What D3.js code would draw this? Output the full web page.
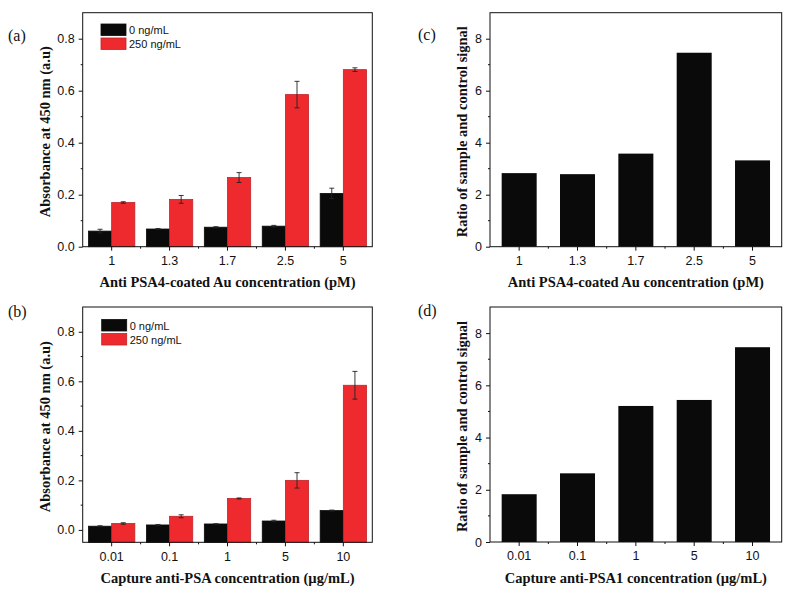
<!DOCTYPE html>
<html>
<head>
<meta charset="utf-8">
<script src="https://cdn.jsdelivr.net/npm/d3@7"></script>
<style>
  html, body { margin: 0; padding: 0; background: #fff; }
  svg { display: block; }
</style>
</head>
<body>
<svg id="chart" width="791" height="595"></svg>
<script>
// ---------- DATA ----------
const catsA = ["1", "1.3", "1.7", "2.5", "5"];
const catsB = ["0.01", "0.1", "1", "5", "10"];
const seriesNames = ["0 ng/mL", "250 ng/mL"];

const aBlack = [0.060, 0.068, 0.075, 0.079, 0.205];
const aBlackErr = [0.007, 0.002, 0.002, 0.003, 0.020];
const aRed = [0.170, 0.182, 0.266, 0.585, 0.681];
const aRedErr = [0.003, 0.015, 0.019, 0.051, 0.007];

const bBlack = [0.015, 0.020, 0.024, 0.036, 0.078];
const bBlackErr = [0.002, 0.002, 0.001, 0.003, 0.002];
const bRed = [0.026, 0.055, 0.127, 0.200, 0.584];
const bRedErr = [0.003, 0.006, 0.002, 0.031, 0.056];

const cRatio = [2.83, 2.79, 3.58, 7.46, 3.32];
const dRatio = [1.83, 2.63, 5.21, 5.44, 7.46];

const yTicksAbs = [0, 0.2, 0.4, 0.6, 0.8];
const yMinorAbs = [0.1, 0.3, 0.5, 0.7];
const yTicksRatio = [0, 2, 4, 6, 8];
const yMinorRatio = [1, 3, 5, 7];

const BLACK = "#0a0a0a";
const RED = "#ef2a2e";
const RED_EDGE = "#c0242a";

const svg = d3.select("#chart");
const serif = "'Liberation Serif', 'Times New Roman', serif";
const sans = "'Liberation Sans', Arial, sans-serif";

function drawFrame(g, x0, x1, y0, y1, x, y, cats, yTicks, yMinor, fmt) {
  const yAxis = d3.axisLeft(y).tickValues(yTicks).tickSize(4).tickSizeOuter(0).tickFormat(fmt);
  const ya = g.append("g").attr("transform", `translate(${x0},0)`).call(yAxis);
  ya.select(".domain").remove();
  ya.selectAll("text").attr("font-family", sans).attr("font-size", 12.5).attr("fill", "#111").attr("dx", "-1");
  ya.selectAll("line").attr("stroke", "#111");
  g.selectAll(null).data(yMinor).join("line")
    .attr("x1", x0 - 2).attr("x2", x0)
    .attr("y1", d => y(d)).attr("y2", d => y(d))
    .attr("stroke", "#111");
  const xAxis = d3.axisBottom(x).tickSize(4).tickSizeOuter(0);
  const xa = g.append("g").attr("transform", `translate(0,${y1})`).call(xAxis);
  xa.select(".domain").remove();
  xa.selectAll("text").attr("font-family", sans).attr("font-size", 12.5).attr("fill", "#111").attr("dy", "0.9em");
  xa.selectAll("line").attr("stroke", "#111");
  const step = x.step();
  const bounds = cats.slice(1).map(c => x(c) + x.bandwidth() / 2 - step / 2);
  g.selectAll(null).data(bounds).join("line")
    .attr("x1", d => d).attr("x2", d => d)
    .attr("y1", y1).attr("y2", y1 + 2)
    .attr("stroke", "#111");
}

function drawBox(g, x0, x1, y0, y1) {
  g.append("rect").attr("x", x0).attr("y", y0).attr("width", x1 - x0).attr("height", y1 - y0)
    .attr("fill", "none").attr("stroke", "#111").attr("stroke-width", 1);
}

function groupedPanel(opts) {
  const { x0, x1, y0, y1, cats, black, blackErr, red, redErr, domain, label, xLabel, legendX, legendY } = opts;
  const g = svg.append("g");
  const x = d3.scaleBand().domain(cats).range([x0, x1]).paddingInner(0.2).paddingOuter(0.1);
  const xs = d3.scaleBand().domain([0, 1]).range([0, x.bandwidth()]).padding(0);
  const y = d3.scaleLinear().domain(domain).range([y1, y0]);
  const base = y(domain[0]);
  const series = [
    { vals: black, errs: blackErr, fill: BLACK, stroke: BLACK, idx: 0 },
    { vals: red, errs: redErr, fill: RED, stroke: RED_EDGE, idx: 1 }
  ];
  series.forEach(s => {
    const data = cats.map((c, i) => ({ c, v: s.vals[i], e: s.errs[i] }));
    g.selectAll(null).data(data).join("rect")
      .attr("x", d => x(d.c) + xs(s.idx))
      .attr("y", d => y(d.v))
      .attr("width", xs.bandwidth())
      .attr("height", d => base - y(d.v))
      .attr("fill", s.fill)
      .attr("stroke", s.stroke)
      .attr("stroke-width", 0.8);
    const eg = g.selectAll(null).data(data).join("g")
      .attr("transform", d => `translate(${x(d.c) + xs(s.idx) + xs.bandwidth() / 2},0)`);
    eg.append("line").attr("x1", 0).attr("x2", 0)
      .attr("y1", d => y(d.v + d.e)).attr("y2", d => y(d.v - d.e))
      .attr("stroke", "#222").attr("stroke-width", 0.9);
    eg.append("line").attr("x1", -2.5).attr("x2", 2.5)
      .attr("y1", d => y(d.v + d.e)).attr("y2", d => y(d.v + d.e))
      .attr("stroke", "#222").attr("stroke-width", 0.9);
    eg.append("line").attr("x1", -2.5).attr("x2", 2.5)
      .attr("y1", d => y(d.v - d.e)).attr("y2", d => y(d.v - d.e))
      .attr("stroke", "#222").attr("stroke-width", 0.9);
  });
  drawFrame(g, x0, x1, y0, y1, x, y, cats, yTicksAbs, yMinorAbs, d3.format(".1f"));
  drawBox(g, x0, x1, y0, y1);
  const lg = g.append("g").attr("transform", `translate(${legendX},${legendY})`);
  seriesNames.forEach((n, i) => {
    lg.append("rect").attr("x", 0).attr("y", i * 14).attr("width", 25).attr("height", 11.5)
      .attr("fill", i === 0 ? BLACK : RED).attr("stroke", i === 0 ? BLACK : RED_EDGE).attr("stroke-width", 0.8);
    lg.append("text").attr("x", 28).attr("y", i * 14 + 10).text(n)
      .attr("font-family", sans).attr("font-size", 11).attr("fill", "#111");
  });
  labels(g, x0, x1, y0, y1, label, xLabel, "Absorbance at 450 nm (a.u)", 45);
}

function ratioPanel(opts) {
  const { x0, x1, y0, y1, cats, vals, label, xLabel } = opts;
  const g = svg.append("g");
  const x = d3.scaleBand().domain(cats).range([x0, x1]).paddingInner(0.4).paddingOuter(0.2);
  const y = d3.scaleLinear().domain([0, 9]).range([y1, y0]);
  g.selectAll(null).data(cats.map((c, i) => ({ c, v: vals[i] }))).join("rect")
    .attr("x", d => x(d.c)).attr("y", d => y(d.v))
    .attr("width", x.bandwidth()).attr("height", d => y(0) - y(d.v))
    .attr("fill", BLACK);
  drawFrame(g, x0, x1, y0, y1, x, y, cats, yTicksRatio, yMinorRatio, d3.format("d"));
  drawBox(g, x0, x1, y0, y1);
  labels(g, x0, x1, y0, y1, label, xLabel, "Ratio of sample and control signal", x0 - 28);
}

function labels(g, x0, x1, y0, y1, label, xLabel, yLabel, yLabelX) {
  g.append("text").attr("x", (x0 + x1) / 2).attr("y", y1 + 40.5)
    .attr("text-anchor", "middle").attr("font-family", serif).attr("font-weight", "bold")
    .attr("font-size", 14.5).attr("fill", "#111").text(xLabel);
  g.append("text").attr("transform", `translate(${yLabelX},${(y0 + y1) / 2 + 2}) rotate(-90)`)
    .attr("text-anchor", "middle").attr("dy", "0.35em").attr("font-family", serif).attr("font-weight", "bold")
    .attr("font-size", 14.5).attr("fill", "#111").text(yLabel);
  g.append("text").attr("x", label.x).attr("y", label.y).text(label.t)
    .attr("font-family", serif).attr("font-size", 16).attr("fill", "#111");
}

groupedPanel({
  x0: 82.7, x1: 372.3, y0: 12.7, y1: 246.7,
  cats: catsA, black: aBlack, blackErr: aBlackErr, red: aRed, redErr: aRedErr,
  domain: [0, 0.9], label: { t: "(a)", x: 8, y: 41 },
  xLabel: "Anti PSA4-coated Au concentration (pM)", legendX: 101, legendY: 24
});
groupedPanel({
  x0: 82.7, x1: 372.3, y0: 307, y1: 542.3,
  cats: catsB, black: bBlack, blackErr: bBlackErr, red: bRed, redErr: bRedErr,
  domain: [-0.05, 0.9], label: { t: "(b)", x: 8, y: 317 },
  xLabel: "Capture anti-PSA concentration (\u00b5g/mL)", legendX: 101.7, legendY: 319.5
});
ratioPanel({
  x0: 490, x1: 781.7, y0: 12.7, y1: 246.7, cats: catsA, vals: cRatio,
  label: { t: "(c)", x: 418, y: 40 }, xLabel: "Anti PSA4-coated Au concentration (pM)"
});
ratioPanel({
  x0: 490, x1: 781.7, y0: 307, y1: 542, cats: catsB, vals: dRatio,
  label: { t: "(d)", x: 418, y: 316 }, xLabel: "Capture anti-PSA1 concentration (\u00b5g/mL)"
});
</script>
</body>
</html>
